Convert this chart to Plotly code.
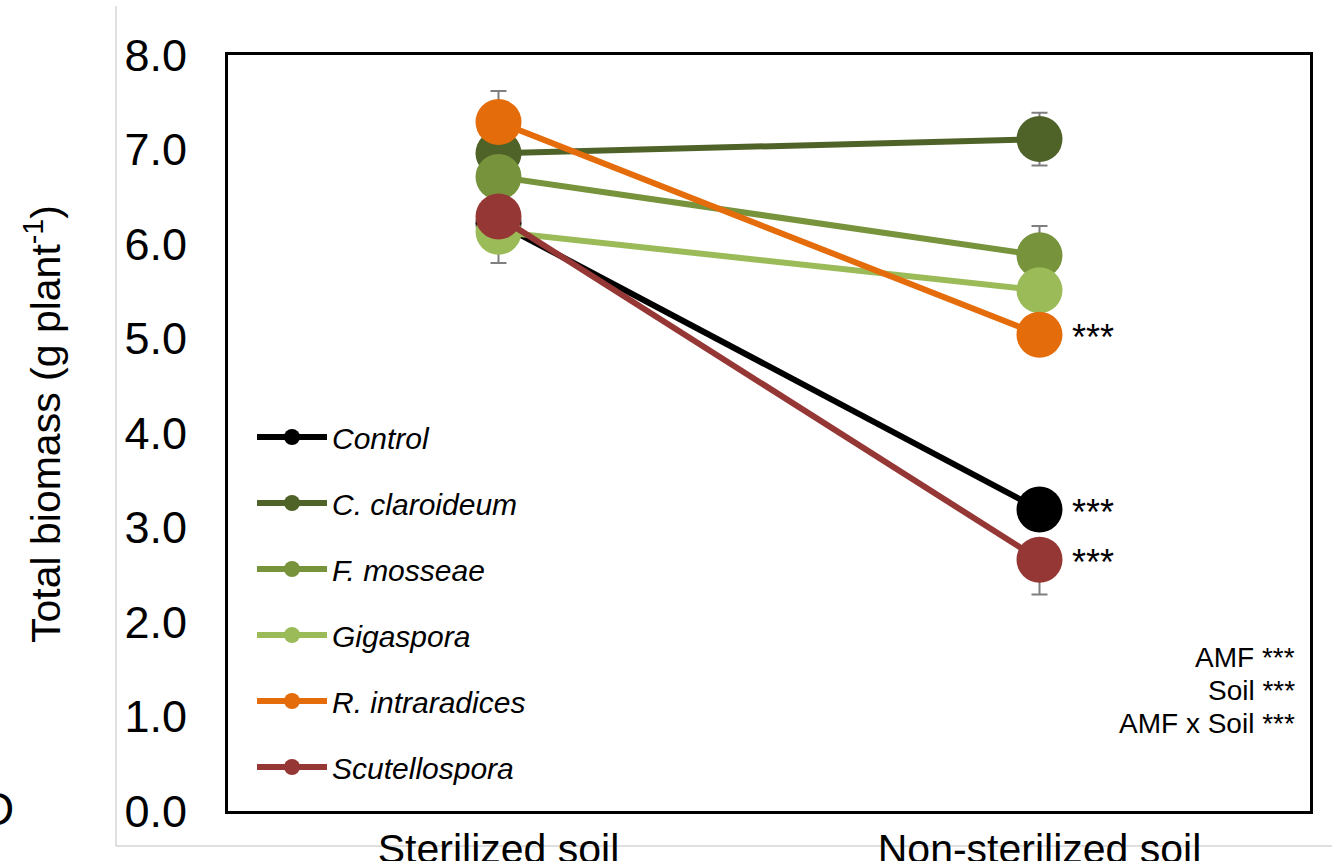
import plotly.graph_objects as go

# ---------------- data ----------------
categories = ["Sterilized soil", "Non-sterilized soil"]

series_names = ["Control", "C. claroideum", "F. mosseae", "Gigaspora",
                "R. intraradices", "Scutellospora"]

control = [6.22, 3.19]
c_claroideum = [6.96, 7.11]
f_mosseae = [6.71, 5.88]
gigaspora = [6.13, 5.51]
r_intraradices = [7.29, 5.04]
scutellospora = [6.29, 2.66]

control_err_plus = [0.15, 0.15]
control_err_minus = [0.15, 0.15]
c_claroideum_err_plus = [0.20, 0.28]
c_claroideum_err_minus = [0.20, 0.28]
f_mosseae_err_plus = [0.20, 0.31]
f_mosseae_err_minus = [0.20, 0.31]
gigaspora_err_plus = [0.33, 0.20]
gigaspora_err_minus = [0.33, 0.20]
r_intraradices_err_plus = [0.33, 0.20]
r_intraradices_err_minus = [0.20, 0.20]
scutellospora_err_plus = [0.20, 0.20]
scutellospora_err_minus = [0.20, 0.37]

# significance at the non-sterilized soil level
significance = ["***", "", "", "", "***", "***"]

stats_lines = ["AMF ***", "Soil ***", "AMF x Soil ***"]

y_ticks = [0, 1, 2, 3, 4, 5, 6, 7, 8]

# ---------------- style ----------------
colors = ["#000000", "#4f6228", "#77933c", "#9bbb59", "#e46c0a", "#953735"]
FONT = "Arial, 'Liberation Sans', sans-serif"

values = [control, c_claroideum, f_mosseae, gigaspora, r_intraradices, scutellospora]
eplus = [control_err_plus, c_claroideum_err_plus, f_mosseae_err_plus,
         gigaspora_err_plus, r_intraradices_err_plus, scutellospora_err_plus]
eminus = [control_err_minus, c_claroideum_err_minus, f_mosseae_err_minus,
          gigaspora_err_minus, r_intraradices_err_minus, scutellospora_err_minus]

W, H = 1332, 861
L, R, T, B = 228, 22, 55, 50
PW, PH = W - L - R, H - T - B


def px(xp):
    return (xp - L) / PW


def py(yp):
    return (H - B - yp) / PH


fig = go.Figure()
for name, vals, ep, em, col in zip(series_names, values, eplus, eminus, colors):
    fig.add_trace(go.Scatter(
        x=categories, y=vals, name=name, mode="lines+markers",
        legendgroup=name,
        line=dict(color=col, width=6),
        marker=dict(color=col, size=46),
        error_y=dict(type="data", symmetric=False, array=ep, arrayminus=em,
                     color="#7f7f7f", thickness=2, width=8),
    ))

annotations = []
for s, vals in zip(significance, values):
    if s:
        annotations.append(dict(
            x=categories[1], y=vals[1], xref="x", yref="y", text=s,
            showarrow=False, xanchor="left", yanchor="middle", xshift=30, yshift=-3,
            font=dict(family=FONT, size=36, color="#000000")))

for i, line in enumerate(stats_lines):
    annotations.append(dict(
        x=px(1297), y=py(657 + 33 * i), xref="paper", yref="paper",
        text=line, align="right", showarrow=False,
        xanchor="right", yanchor="middle",
        font=dict(family=FONT, size=28, color="#000000")))

annotations.append(dict(
    x=px(43), y=py(424), xref="paper", yref="paper",
    text="Total biomass (g plant<sup>-1</sup>)", textangle=-90, showarrow=False,
    xanchor="center", yanchor="middle",
    font=dict(family=FONT, size=41, color="#000000")))

annotations.append(dict(
    x=px(16), y=py(809), xref="paper", yref="paper", text="D", showarrow=False,
    xanchor="right", yanchor="middle",
    font=dict(family=FONT, size=46, color="#000000")))

shapes = [
    dict(type="line", xref="paper", yref="paper", x0=px(116), x1=px(116),
         y0=py(6), y1=py(846), line=dict(color="#c0c0c0", width=1), layer="below"),
    dict(type="line", xref="paper", yref="paper", x0=px(116), x1=px(1332),
         y0=py(846), y1=py(846), line=dict(color="#c0c0c0", width=1), layer="below"),
]

fig.update_layout(
    width=W, height=H,
    margin=dict(l=L, r=R, t=T, b=B, autoexpand=False),
    paper_bgcolor="white", plot_bgcolor="white",
    font=dict(family=FONT, color="#000000"),
    showlegend=True,
    legend=dict(x=px(252), y=py(411), xanchor="left", yanchor="top",
                bgcolor="rgba(0,0,0,0)", itemwidth=70, tracegroupgap=24,
                traceorder="grouped",
                font=dict(family=FONT, size=30, style="italic", color="#000000")),
    xaxis=dict(range=[-0.5, 1.5], showgrid=False, zeroline=False, automargin=False,
               showline=True, mirror=True, linecolor="#000000", linewidth=3,
               ticks="", tickfont=dict(family=FONT, size=41, color="#000000")),
    yaxis=dict(range=[0, 8], tickvals=y_ticks, tickformat=".1f", showgrid=False,
               zeroline=False, showline=True, mirror=True, linecolor="#000000",
               linewidth=3, ticks="", ticklabelstandoff=29, automargin=False,
               tickfont=dict(family=FONT, size=45, color="#000000")),
    annotations=annotations,
    shapes=shapes,
)

fig.write_html("out.html")
